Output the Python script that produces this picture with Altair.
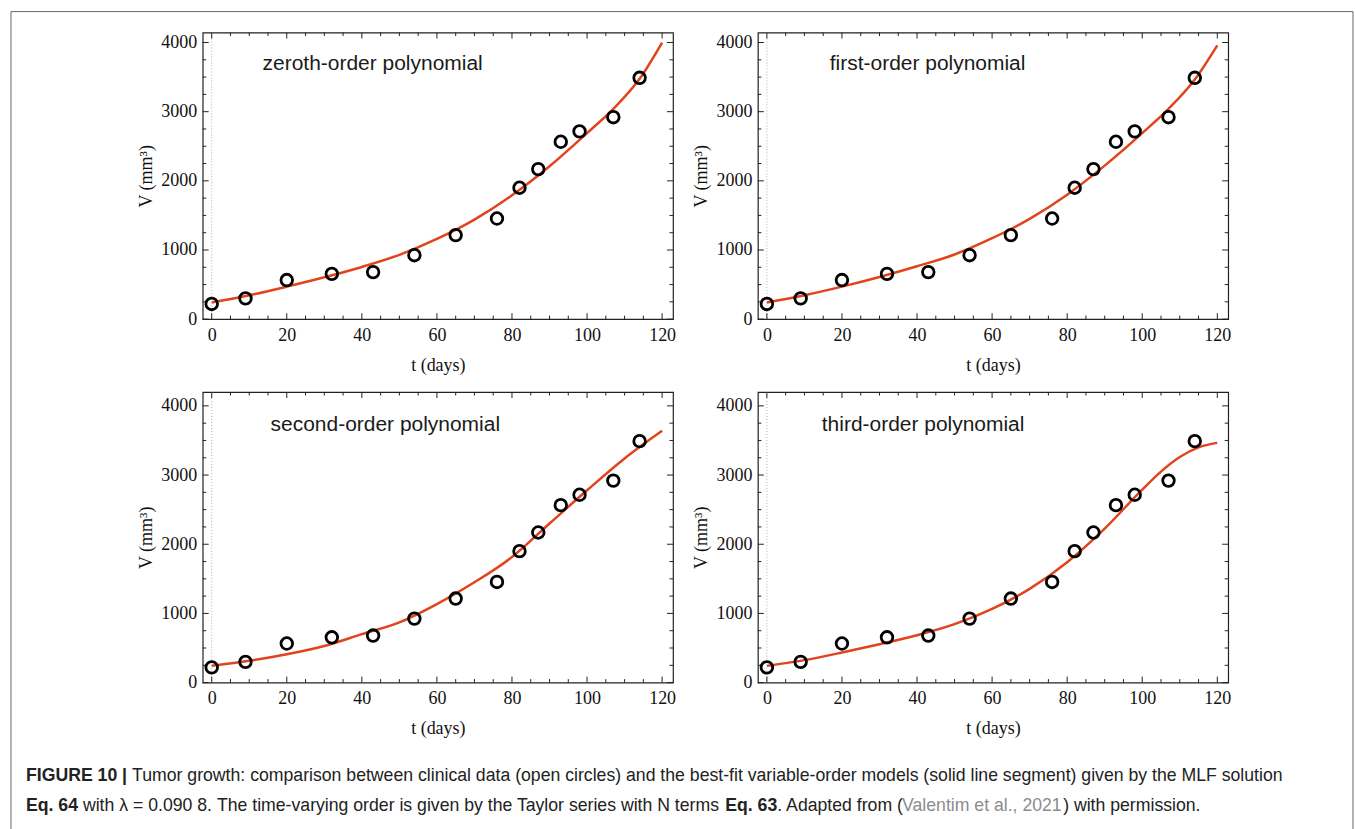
import altair as alt
import pandas as pd

# ---- data ----
T_DATA = [0, 9, 20, 32, 43, 54, 65, 76, 82, 87, 93, 98, 107, 114]
V_DATA = [220, 300, 565, 655, 680, 925, 1215, 1455, 1900, 2170, 2565, 2715, 2920, 3490]

T_CURVE = [0, 10, 20, 30, 40, 50, 60, 70, 80, 90, 100, 107, 114, 120]
V_ZERO = [240, 345, 470, 605, 755, 930, 1160, 1440, 1790, 2210, 2690, 3040, 3475, 4000]
V_FIRST = [240, 345, 470, 610, 765, 935, 1170, 1450, 1800, 2220, 2690, 3040, 3465, 3960]
T_CURVE2 = [0, 10, 20, 30, 40, 50, 60, 70, 80, 90, 100, 110, 120]
V_SECOND = [242, 315, 410, 530, 700, 870, 1135, 1450, 1815, 2300, 2780, 3240, 3640]
T_CURVE3 = [0, 10, 20, 30, 40, 50, 60, 70, 80, 90, 100, 105, 110, 115, 120]
V_THIRD = [242, 325, 435, 555, 685, 845, 1065, 1355, 1740, 2225, 2790, 3050, 3260, 3400, 3465]

LABELS = ["zeroth-order polynomial", "first-order polynomial",
          "second-order polynomial", "third-order polynomial"]

X_MAJOR = [0, 20, 40, 60, 80, 100, 120]
X_MINOR = [v for v in range(5, 120, 5) if v % 20 != 0]
Y_MAJOR = [0, 1000, 2000, 3000, 4000]
Y_MINOR = [v for v in range(250, 4001, 250) if v % 1000 != 0]

RED = "#e2431c"
W = 471
SERIF = "Liberation Serif"
SANS = "Liberation Sans"


def panel(tc, vc, label, label_x, label_y, H, ymax):
    xs = alt.Scale(domain=[-2.4, 122.9], nice=False, zero=False)
    ys = alt.Scale(domain=[0, ymax], nice=False)
    common = dict(format="d", domain=False, ticks=False, grid=False,
                  labelFont=SERIF, labelFontSize=18, labelColor="#111",
                  titleFont=SERIF, titleFontSize=18, titleFontWeight="normal",
                  titleColor="#111")
    xaxis = alt.Axis(values=X_MAJOR, title="t (days)", labelPadding=7, titlePadding=12,
                     **common)
    yaxis = alt.Axis(values=Y_MAJOR, title="V (mm³)", labelPadding=6, titlePadding=5,
                     **common)
    X = alt.X("t:Q", scale=xs, axis=xaxis)
    Y = alt.Y("V:Q", scale=ys, axis=yaxis)

    line = alt.Chart(pd.DataFrame({"t": tc, "V": vc})).mark_line(
        color=RED, strokeWidth=2.5, interpolate="monotone"
    ).encode(x=X, y=Y)

    zero = alt.Chart(pd.DataFrame({"t": [0]})).mark_rule(
        color="#9a9a9a", strokeWidth=0.8, strokeDash=[1, 2]
    ).encode(x=X)

    def xticks(vals, length):
        d = pd.DataFrame({"t": vals})
        bot = alt.Chart(d).mark_rule(color="#222", strokeWidth=1).encode(
            x=X, y=alt.value(H), y2=alt.value(H - length))
        top = alt.Chart(d).mark_rule(color="#222", strokeWidth=1).encode(
            x=X, y=alt.value(0), y2=alt.value(length))
        return [bot, top]

    def yticks(vals, length):
        d = pd.DataFrame({"V": vals})
        left = alt.Chart(d).mark_rule(color="#222", strokeWidth=1).encode(
            y=Y, x=alt.value(0), x2=alt.value(length))
        right = alt.Chart(d).mark_rule(color="#222", strokeWidth=1).encode(
            y=Y, x=alt.value(W), x2=alt.value(W - length))
        return [left, right]

    pts = alt.Chart(pd.DataFrame({"t": T_DATA, "V": V_DATA})).mark_point(
        shape="circle", filled=False, color="black", strokeWidth=2.8, size=135, opacity=1
    ).encode(x=X, y=Y)

    lab = alt.Chart(pd.DataFrame({"label": [label]})).mark_text(
        align="left", baseline="middle", font=SANS, fontSize=21, color="#1a1a1a"
    ).encode(x=alt.value(label_x), y=alt.value(label_y), text="label:N")

    layers = [line, zero] + xticks(X_MAJOR, 6) + xticks(X_MINOR, 3.5) + \
        yticks(Y_MAJOR, 6) + yticks(Y_MINOR, 3.5) + [pts, lab]
    return alt.layer(*layers).properties(width=W, height=H)


p1 = panel(T_CURVE, V_ZERO, LABELS[0], 60, 31, 287, 4144)
p2 = panel(T_CURVE, V_FIRST, LABELS[1], 72, 31, 287, 4144)
p3 = panel(T_CURVE2, V_SECOND, LABELS[2], 68, 33, 291, 4200)
p4 = panel(T_CURVE3, V_THIRD, LABELS[3], 64, 33, 291, 4200)

# ---- caption (Helvetica/Arial advance widths, 1/1000 em, for chaining text runs) ----
FS = 17.7
REG = {" ": 278, "(": 333, ")": 333, ",": 278, "-": 333, ".": 278, ":": 278, "=": 584,
       "|": 260, "λ": 520, "F": 611, "L": 556, "M": 833, "N": 722, "T": 611, "V": 667,
       "a": 556, "b": 556, "c": 500, "d": 556, "e": 556, "f": 278, "g": 556, "h": 556,
       "i": 222, "l": 222, "m": 833, "n": 556, "o": 556, "p": 556, "r": 333, "s": 500,
       "t": 278, "u": 556, "v": 556, "w": 722, "y": 500}
BOLD = {" ": 278, ".": 278, "|": 280, "E": 667, "F": 611, "G": 778, "I": 278, "R": 722,
        "U": 722, "q": 611}


def tw(s, bold=False):
    tab = BOLD if bold else REG
    return sum(tab.get(c, 556) for c in s) / 1000.0 * FS


cap = alt.Chart(pd.DataFrame({"k": [0]}))


def seg(text, x, y, bold=False, color="#222222"):
    return cap.mark_text(
        align="left", baseline="middle", font=SANS, fontSize=FS,
        fontWeight="bold" if bold else "normal", color=color, text=text
    ).encode(x=alt.value(x), y=alt.value(y))


X0 = -177          # caption left edge relative to the first panel's frame
L1, L2 = 21, 51
SP = tw(" ")

line1 = [("FIGURE 10 |", True, "#222222", SP),
         ("Tumor growth: comparison between clinical data (open circles) and the best-fit "
          "variable-order models (solid line segment) given by the MLF solution", False, "#222222", 0)]
line2 = [("Eq. 64", True, "#222222", SP),
         ("with λ = 0.090 8. The time-varying order is given by the Taylor series with N terms",
          False, "#222222", 1),
         ("Eq. 63", True, "#222222", 0),
         (". Adapted from (", False, "#222222", 0),
         ("Valentim et al., 2021", False, "#8c8c8c", 0),
         (") with permission.", False, "#222222", 0)]

caption_layers = []
for yy, runs in ((L1, line1), (L2, line2)):
    x = X0
    for text, bold, col, gap in runs:
        caption_layers.append(seg(text, x, yy, bold=bold, color=col))
        x += tw(text, bold) + gap

caption_layers += [
    # figure border
    cap.mark_rule(color="#666", strokeWidth=1).encode(
        x=alt.value(-192), y=alt.value(-745), y2=alt.value(74)),
    cap.mark_rule(color="#666", strokeWidth=1).encode(
        x=alt.value(-192), x2=alt.value(1152), y=alt.value(-745)),
    cap.mark_rule(color="#666", strokeWidth=1).encode(
        x=alt.value(1152), y=alt.value(-745), y2=alt.value(74)),
]
caption = alt.layer(*caption_layers).properties(
    width=400, height=74, view=alt.ViewBackground(stroke="transparent"))

chart = alt.concat(
    p1, p2, p3, p4, caption, columns=2, bounds="flush",
    spacing=alt.RowColnumber(row=73, column=85)
).properties(
    padding={"left": 9, "top": 9, "right": 0, "bottom": 0},
    background="white"
).configure_view(
    stroke="#222", strokeWidth=1.2
).configure_axis(
    labelFont=SERIF, labelFontSize=18, labelColor="#111",
    titleFont=SERIF, titleFontSize=18, titleFontWeight="normal", titleColor="#111"
)

chart.save("out.html", embed_options={"renderer": "svg", "actions": False})
